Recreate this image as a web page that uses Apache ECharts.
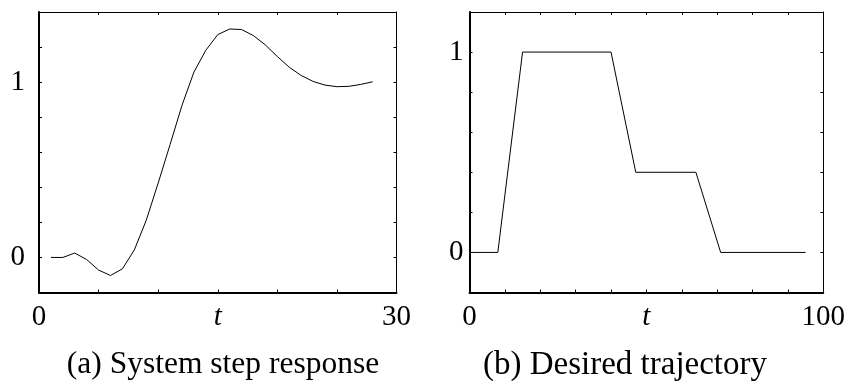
<!DOCTYPE html>
<html>
<head>
<meta charset="utf-8">
<script src="https://cdn.jsdelivr.net/npm/echarts@6/dist/echarts.min.js"></script>
<style>
html,body{margin:0;padding:0;background:#fff;}
#c{width:848px;height:381px;}
</style>
</head>
<body>
<div id="c"></div>
<script>
// (a) System step response
var stepT = [1,2,3,4,5,6,7,8,9,10,11,12,13,14,15,16,17,18,19,20,21,22,23,24,25,26,27,28];
var stepY = [0,0,0.025,-0.012,-0.072,-0.103,-0.065,0.043,0.212,0.424,0.644,0.868,1.057,1.182,1.271,1.303,1.300,1.265,1.212,1.146,1.085,1.038,1.004,0.983,0.974,0.976,0.987,1.002];
// (b) Desired trajectory
var trajT = [0,8,15,40,47,64,71,95];
var trajY = [0,0,1,1,0.4,0.4,0,0];
// tick labels
var leftXLabels = [0,30];
var rightXLabels = [0,100];
var yLabels = [0,1];
var captions = ['(a) System step response','(b) Desired trajectory'];
var axisName = 't';

var FONT = '"Liberation Serif", "Times New Roman", serif';

function pair(xs, ys){ return xs.map(function(x,i){return [x, ys[i]];}); }
function inList(list){
  return function(v){
    for (var i=0;i<list.length;i++){ if (Math.abs(v-list[i])<1e-9) return String(list[i]); }
    return '';
  };
}

function xAxes(gridIndex, max, interval, labels){
  return [{
    type:'value', gridIndex:gridIndex, position:'bottom', min:0, max:max, interval:interval,
    axisLine:{show:true, onZero:false, lineStyle:{color:'#000', width:2}},
    axisTick:{show:true, inside:true, length:3, lineStyle:{color:'#000', width:1}},
    axisLabel:{show:true, formatter:inList(labels), fontFamily:FONT, fontSize:29, color:'#000', margin:10, showMinLabel:true, showMaxLabel:true},
    splitLine:{show:false},
    name:axisName, nameLocation:'middle', nameGap:10, nameMoveOverlap:false,
    nameTextStyle:{fontFamily:FONT, fontSize:29, fontStyle:'italic', color:'#000', verticalAlign:'top'}
  },{
    type:'value', gridIndex:gridIndex, position:'top', min:0, max:max, interval:interval,
    axisLine:{show:true, onZero:false, lineStyle:{color:'#000', width:1}},
    axisTick:{show:true, inside:true, length:3, lineStyle:{color:'#000', width:1}},
    axisLabel:{show:false}, splitLine:{show:false}
  }];
}
function yAxes(gridIndex, min, max, margin){
  return [{
    type:'value', gridIndex:gridIndex, position:'left', min:min, max:max, interval:0.2,
    axisLine:{show:true, onZero:false, lineStyle:{color:'#000', width:2}},
    axisTick:{show:true, inside:true, length:3, lineStyle:{color:'#000', width:1}},
    axisLabel:{show:true, formatter:inList(yLabels), fontFamily:FONT, fontSize:29, color:'#000', margin:margin},
    splitLine:{show:false}
  },{
    type:'value', gridIndex:gridIndex, position:'right', min:min, max:max, interval:0.2,
    axisLine:{show:true, onZero:false, lineStyle:{color:'#000', width:1}},
    axisTick:{show:true, inside:true, length:3, lineStyle:{color:'#000', width:1}},
    axisLabel:{show:false}, splitLine:{show:false}
  }];
}

var chart = echarts.init(document.getElementById('c'), null, {renderer:'canvas'});
chart.setOption({
  animation:false,
  backgroundColor:'#fff',
  grid:[
    {left:39, top:12, right:451.5, bottom:88.5},
    {left:469.5, top:12, right:22.5, bottom:88.5}
  ],
  xAxis: xAxes(0, 30, 5, leftXLabels).concat(xAxes(1, 100, 10, rightXLabels)),
  yAxis: yAxes(0, -0.2, 1.4, 14).concat(yAxes(1, -0.2, 1.2, 6)),
  series:[
    {type:'line', xAxisIndex:0, yAxisIndex:0, data:pair(stepT, stepY), showSymbol:false, symbol:'none',
     lineStyle:{color:'#000', width:1}, silent:true},
    {type:'line', xAxisIndex:2, yAxisIndex:2, data:pair(trajT, trajY), showSymbol:false, symbol:'none',
     lineStyle:{color:'#000', width:1}, silent:true}
  ],
  graphic:[
    {type:'text', x:223, y:365, style:{text:captions[0], font:'31.5px ' + FONT, fill:'#000', align:'center', verticalAlign:'middle'}},
    {type:'text', x:625, y:365, style:{text:captions[1], font:'33px ' + FONT, fill:'#000', align:'center', verticalAlign:'middle'}}
  ]
});
</script>
</body>
</html>
